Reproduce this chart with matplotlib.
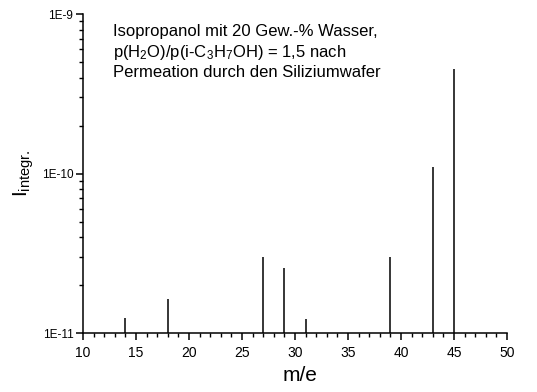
import matplotlib
matplotlib.use("Agg")
import matplotlib.pyplot as plt
from matplotlib.ticker import LogLocator, FixedLocator, NullFormatter

plt.rcParams["font.family"] = ["Liberation Sans", "DejaVu Sans"]
plt.rcParams["mathtext.fontset"] = "custom"
plt.rcParams["mathtext.rm"] = "Liberation Sans"
plt.rcParams["mathtext.it"] = "Liberation Sans:italic"

# Peaks of the mass spectrum (m/e, integrated intensity)
mass = [14, 18, 27, 29, 31, 39, 43, 45]
intensity = [1.24e-11, 1.63e-11, 3.0e-11, 2.56e-11, 1.22e-11, 3.0e-11, 1.1e-10, 4.5e-10]

x_ticks = [10, 15, 20, 25, 30, 35, 40, 45, 50]
y_ticks = [1e-11, 1e-10, 1e-9]
y_tick_labels = ["1E-11", "1E-10", "1E-9"]

note = ("Isopropanol mit 20 Gew.-% Wasser,\n"
        r"p(H$\mathregular{_2}$O)/p(i-C$\mathregular{_3}$H$\mathregular{_7}$OH) = 1,5 nach" "\n"
        "Permeation durch den Siliziumwafer")

fig = plt.figure(figsize=(5.37, 3.92), dpi=100)
ax = fig.add_axes([0.1546, 0.1505, 0.7896, 0.8135])

ax.vlines(mass, 1e-11, intensity, color="black", linewidth=1.1)

ax.set_yscale("log")
ax.set_xlim(10, 50)
ax.set_ylim(1e-11, 1e-9)

ax.set_xticks(x_ticks)
ax.set_xticklabels([str(t) for t in x_ticks], fontsize=10)
ax.xaxis.set_minor_locator(FixedLocator(range(10, 51)))
ax.set_yticks(y_ticks)
ax.set_yticklabels(y_tick_labels, fontsize=8.5)
ax.yaxis.set_minor_locator(LogLocator(base=10, subs=range(2, 10)))
ax.yaxis.set_minor_formatter(NullFormatter())

ax.tick_params(which="major", direction="out", length=5, width=1.1, pad=2)
ax.tick_params(axis="x", which="major", pad=4)
ax.tick_params(which="minor", direction="out", length=3, width=1.0)
ax.tick_params(top=False, right=False, which="both")

for side in ["top", "right"]:
    ax.spines[side].set_visible(False)
for side in ["left", "bottom"]:
    ax.spines[side].set_linewidth(1.1)

ax.set_xlabel("m/e", fontsize=15)
ax.xaxis.set_label_coords(0.512, -0.105)
ax.set_ylabel(r"I$\mathregular{_{integr.}}$", fontsize=15)
ax.yaxis.set_label_coords(-0.11, 0.5)

ax.text(0.07, 0.97, note, transform=ax.transAxes, fontsize=12,
        va="top", ha="left", linespacing=1.3)

fig.savefig("out.png", dpi=100)
